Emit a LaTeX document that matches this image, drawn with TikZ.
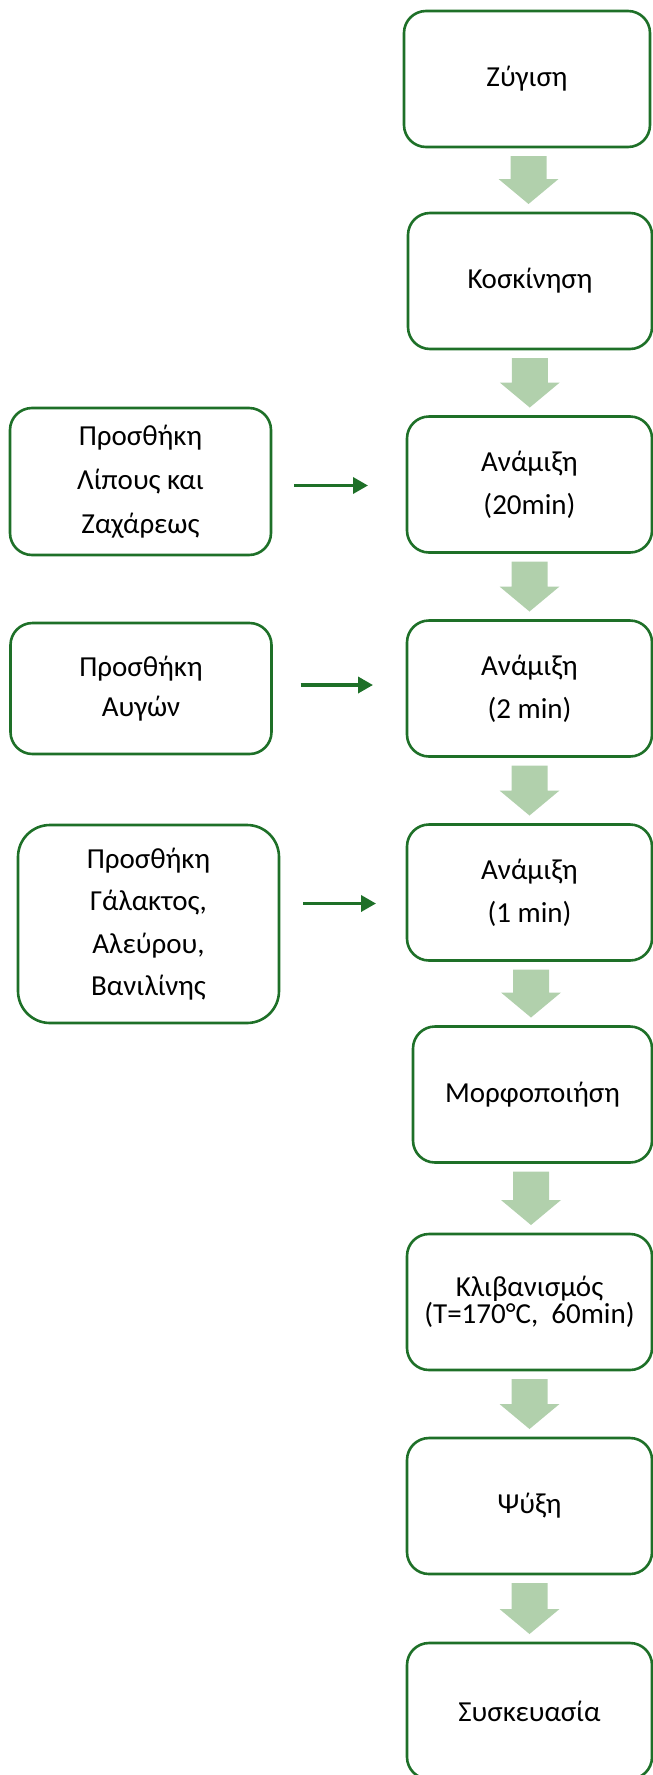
\documentclass[tikz,border=0pt]{standalone}
\usepackage{fontspec}
\setmainfont{Carlito}
\usetikzlibrary{arrows.meta,calc}
\definecolor{boxgreen}{RGB}{30,112,40}
\definecolor{flowgreen}{RGB}{177,208,172}
\tikzset{
    procbox/.style={draw=boxgreen, line width=2.6pt, rounded corners=22pt, fill=white,
        minimum width=245pt, minimum height=136pt, inner sep=0pt, outer sep=0pt,
        align=center, font=\fontsize{29}{43}\selectfont},
    addbox/.style={procbox, minimum width=261pt, font=\fontsize{29}{40}\selectfont},
    addarrow/.style={draw=boxgreen, line width=3.5pt, -{Triangle[length=15pt,width=16pt]}}
}
\begin{document}
\begin{tikzpicture}[x=1pt, y=-1pt]
                \useasboundingbox (0,0) rectangle (653,1775);
                % main line
                \node[procbox, minimum width=246pt] (b1) at (527,79) {Ζύγιση};
                \node[procbox, minimum width=244pt] (b2) at (530,281) {Κοσκίνηση};
                \node[procbox] (b3) at (529.5,484.5) {Ανάμιξη\\(20min)};
                \node[procbox] (b4) at (529.5,688.5) {Ανάμιξη\\(2 min)};
                \node[procbox] (b5) at (529.5,892.5) {Ανάμιξη\\(1 min)};
                \node[procbox, minimum width=239pt] (b6) at (532.5,1094.5) {Μορφοποιήση};
                \node[procbox, font=\fontsize{29}{25}\selectfont] (b7) at (529.5,1302) {Κλιβανισμός\\(T=170°C,\ \ 60min)};
                \node[procbox] (b8) at (529.5,1506) {Ψύξη};
                \node[procbox] (b9) at (529.5,1711) {Συσκευασία};
                % additions
                \node[addbox, minimum height=147pt, font=\fontsize{29}{44}\selectfont] (sa) at (140.5,481.5) {Προσθήκη\\Λίπους και\\Ζαχάρεως};
                \node[addbox, minimum height=131pt] (sb) at (141,688.5) {Προσθήκη\\Αυγών};
                \node[addbox, minimum height=198pt, rounded corners=32pt, font=\fontsize{29}{42.5}\selectfont] (sc) at (148.5,924) {Προσθήκη\\Γάλακτος,\\Αλεύρου,\\Βανιλίνης};
                \foreach \a/\b in {b1/b2, b2/b3, b3/b4, b4/b5, b5/b6, b6/b7, b7/b8, b8/b9} {
                    \fill[flowgreen] let \p1 = (\a.south), \p2 = (\b.north), \p3 = ($(\p1)!0.5!(\p2)$) in
                        (\x3-18pt,\y1-9pt) -- (\x3+18pt,\y1-9pt) -- (\x3+18pt,\y2+34pt) -- (\x3+30pt,\y2+34pt)
                        -- (\x3,\y2+9pt) -- (\x3-30pt,\y2+34pt) -- (\x3-18pt,\y2+34pt) -- cycle;
                }
                \draw[addarrow] ($(sa.east |- b3.west)+(23,1)$) -- ($(b3.west)+(-39,1)$);
                \draw[addarrow] ($(sb.east |- b4.west)+(29,-3.5)$) -- ($(b4.west)+(-34,-3.5)$);
                \draw[addarrow] ($(sc.east |- b5.west)+(24,11)$) -- ($(b5.west)+(-31,11)$);
            \end{tikzpicture}
\end{document}
